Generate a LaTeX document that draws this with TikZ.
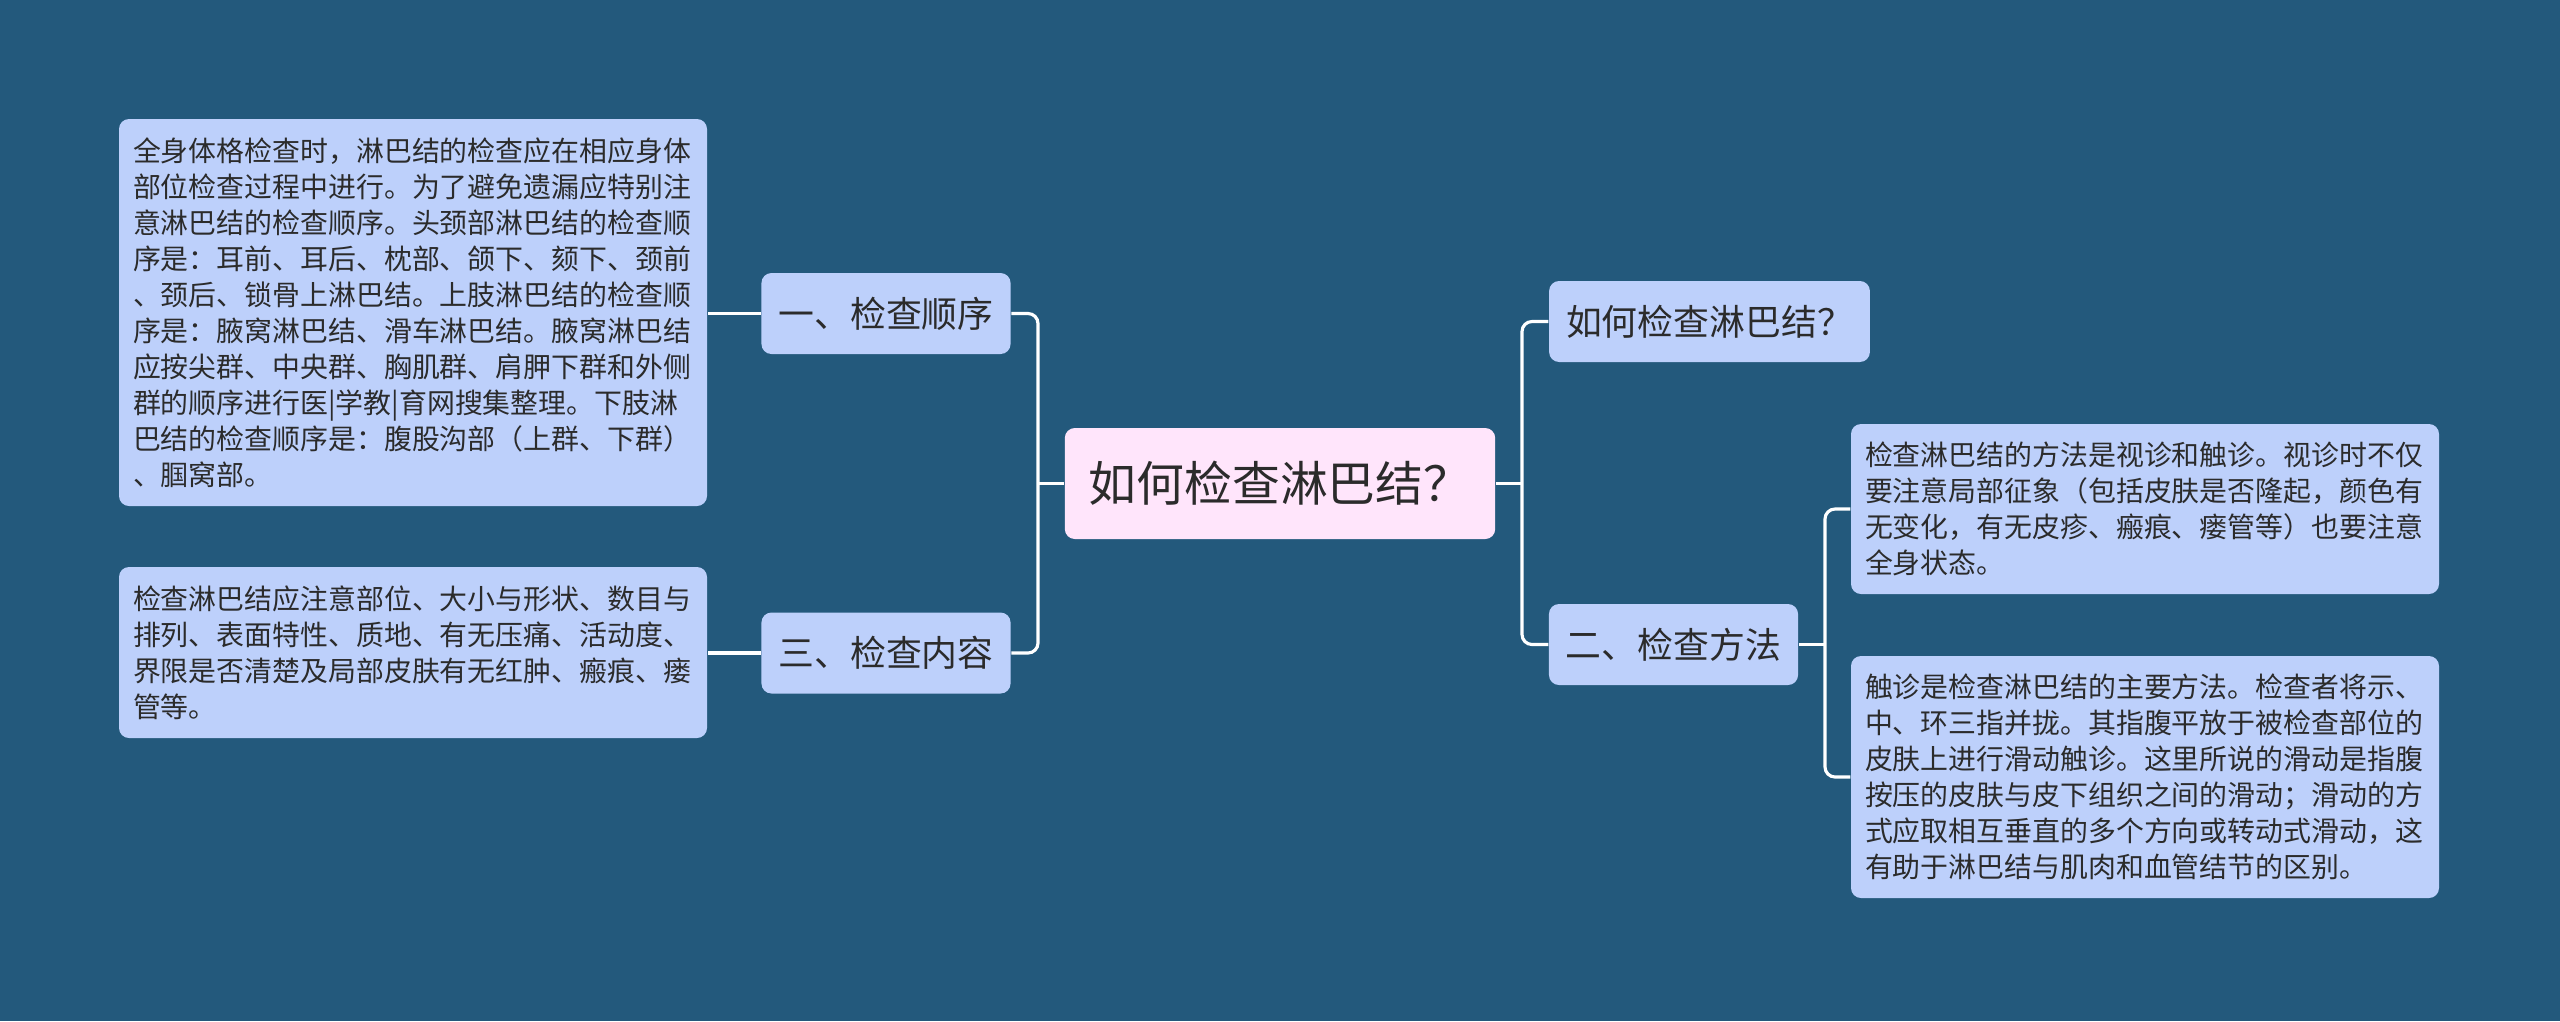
\documentclass[tikz,border=0pt]{standalone}
\usepackage{fontspec}
\setmainfont{Noto Sans CJK SC}
\usepackage{tikz}
\definecolor{bgblue}{HTML}{23597C}
\definecolor{boxblue}{HTML}{BDD0FB}
\definecolor{rootpink}{HTML}{FFE5FB}
\definecolor{inkgray}{HTML}{2B2B2B}

\begin{document}
\begin{tikzpicture}[
topic/.style={fill=rootpink,rounded corners=0.1cm,text=inkgray,font=\fontsize{13.6}{16}\selectfont,inner xsep=0.24cm,minimum height=1.11cm},
branch/.style={fill=boxblue,rounded corners=0.1cm,text=inkgray,font=\fontsize{10.2}{12}\selectfont,inner xsep=0.17cm,minimum height=0.81cm},
note/.style={fill=boxblue,rounded corners=0.1cm,text=inkgray,font=\fontsize{7.94}{10.24}\selectfont,align=left,text width=5.6cm,inner xsep=0.14cm},
link/.style={draw=white,line width=0.9pt,rounded corners=0.1cm}]
\fill[bgblue] (0,0) rectangle (25.6,-10.21);
\useasboundingbox (0,0) rectangle (25.6,-10.21);

% centre and first level
\node[topic] (root) at (12.80,-4.835) {如何检查淋巴结？};
\node[branch] (ord) at (8.86,-3.135) {一、检查顺序};
\node[branch] (cont) at (8.86,-6.53) {三、检查内容};
\node[branch] (ask) at (17.095,-3.215) {如何检查淋巴结？};
\node[branch] (meth) at (16.735,-6.445) {二、检查方法};

% notes
\node[note,minimum height=3.87cm] (lb1) at (4.13,-3.125) {全身体格检查时，淋巴结的检查应在相应身体\\部位检查过程中进行。为了避免遗漏应特别注\\意淋巴结的检查顺序。头颈部淋巴结的检查顺\\序是：耳前、耳后、枕部、颌下、颏下、颈前\\、颈后、锁骨上淋巴结。上肢淋巴结的检查顺\\序是：腋窝淋巴结、滑车淋巴结。腋窝淋巴结\\应按尖群、中央群、胸肌群、肩胛下群和外侧\\群的顺序进行医|学教|育网搜集整理。下肢淋\\巴结的检查顺序是：腹股沟部（上群、下群）\\、腘窝部。};
\node[note,minimum height=1.71cm] (lb2) at (4.13,-6.525) {检查淋巴结应注意部位、大小与形状、数目与\\排列、表面特性、质地、有无压痛、活动度、\\界限是否清楚及局部皮肤有无红肿、瘢痕、瘘\\管等。};
\node[note,minimum height=1.70cm] (rb1) at (21.45,-5.09) {检查淋巴结的方法是视诊和触诊。视诊时不仅\\要注意局部征象（包括皮肤是否隆起，颜色有\\无变化，有无皮疹、瘢痕、瘘管等）也要注意\\全身状态。};
\node[note,minimum height=2.42cm] (rb2) at (21.45,-7.77) {触诊是检查淋巴结的主要方法。检查者将示、\\中、环三指并拢。其指腹平放于被检查部位的\\皮肤上进行滑动触诊。这里所说的滑动是指腹\\按压的皮肤与皮下组织之间的滑动；滑动的方\\式应取相互垂直的多个方向或转动式滑动，这\\有助于淋巴结与肌肉和血管结节的区别。};

\coordinate (jl) at (10.38,-4.835);
\coordinate (jr) at (15.22,-4.835);
\coordinate (jm) at (18.25,-6.445);

\draw[link] (root.west) -- (jl);
\draw[link] (ord.east) -| (jl) |- (cont.east);
\draw[link] (root.east) -- (jr);
\draw[link] (ask.west) -| (jr) |- (meth.west);
\draw[link] (meth.east) -- (jm);
\draw[link] (rb1.west) -| (jm) |- (rb2.west);
\draw[link] (ord.west) -- (ord.west -| lb1.east);
\draw[link] (cont.west) -- (cont.west -| lb2.east);
\end{tikzpicture}
\end{document}
